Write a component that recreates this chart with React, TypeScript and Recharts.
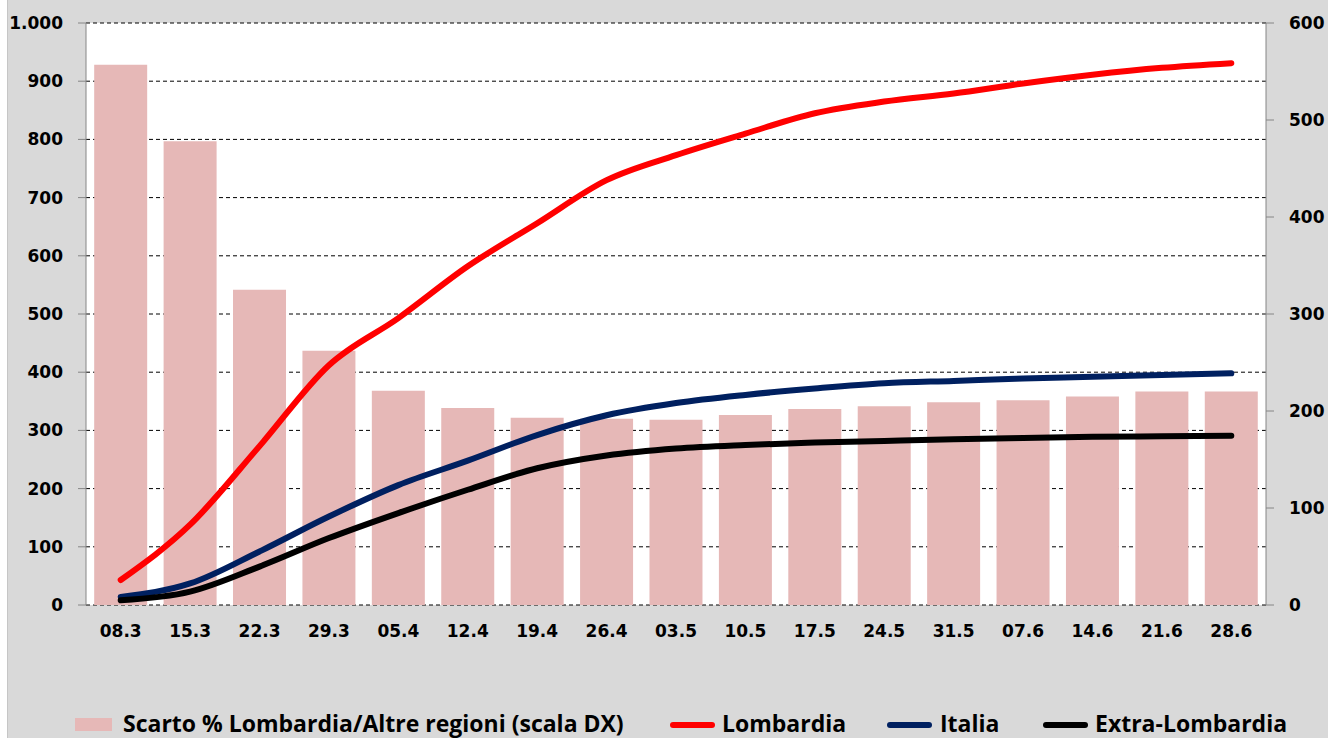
import React from 'react';
import { ComposedChart, Bar, Line, XAxis, YAxis, CartesianGrid, Legend } from 'recharts';

const categories = ['08.3', '15.3', '22.3', '29.3', '05.4', '12.4', '19.4', '26.4', '03.5', '10.5', '17.5', '24.5', '31.5', '07.6', '14.6', '21.6', '28.6'];
const scarto = [557, 478, 325, 262, 221, 203, 193, 192, 191, 196, 202, 205, 209, 211, 215, 220, 220];
const lombardia = [43, 138, 273, 412, 493, 582, 656, 730, 773, 810, 845, 865, 879, 896, 911, 923, 931];
const italia = [14, 37, 92, 152, 206, 248, 292, 326, 347, 361, 372, 381, 385, 389, 392, 395, 398];
const extraLombardia = [8, 23, 66, 115, 158, 198, 235, 257, 269, 275, 279, 282, 285, 287, 289, 290, 291];

const leftTicks = [0, 100, 200, 300, 400, 500, 600, 700, 800, 900, 1000];
const rightTicks = [0, 100, 200, 300, 400, 500, 600];
const edgeTicks = [0, 1, 2, 3, 4, 5, 6, 7, 8, 9, 10, 11, 12, 13, 14, 15, 16, 17];

const data = categories.map((c, i) => ({
  cat: c,
  scarto: scarto[i],
  lombardia: lombardia[i],
  italia: italia[i],
  extra: extraLombardia[i],
}));

const AXIS_FONT = { fontFamily: 'DejaVu Sans', fontWeight: 700, fontSize: 17, fill: '#000' };
const AXIS_COLOR = '#868686';

const fmt = (v: number) => v.toLocaleString('de-DE');

const legendText: React.CSSProperties = {
  position: 'absolute',
  top: 6,
  fontFamily: 'Open Sans',
  fontWeight: 700,
  fontSize: 23,
  lineHeight: '23px',
  color: '#000',
  whiteSpace: 'nowrap',
};

const lineIcon = (left: number, color: string): React.CSSProperties => ({
  position: 'absolute',
  left,
  top: 16,
  width: 45,
  height: 6,
  borderRadius: 3,
  background: color,
});

const renderLegend = () => (
  <div style={{ position: 'relative', width: 1320, height: 32 }}>
    <div style={{ position: 'absolute', left: 67, top: 12, width: 37, height: 13, background: '#e6b8b7' }} />
    <span style={{ ...legendText, left: 115 }}>Scarto % Lombardia/Altre regioni (scala DX)</span>
    <div style={lineIcon(662, '#ff0000')} />
    <span style={{ ...legendText, left: 714 }}>Lombardia</span>
    <div style={lineIcon(879, '#002060')} />
    <span style={{ ...legendText, left: 932 }}>Italia</span>
    <div style={lineIcon(1035, '#000000')} />
    <span style={{ ...legendText, left: 1087 }}>Extra-Lombardia</span>
  </div>
);

export default function App() {
  return (
    <div
      style={{
        position: 'fixed',
        left: 7,
        top: 0,
        width: 1321,
        height: 738,
        background: '#d9d9d9',
        borderLeft: '1px solid #c6c6c6',
        boxSizing: 'border-box',
        overflow: 'hidden',
      }}
    >
      <ComposedChart
        width={1320}
        height={738}
        data={data}
        margin={{ top: 23, right: 0, left: 0, bottom: 61 }}
        barCategoryGap="11.8%"
      >
        <CartesianGrid
          xAxisId="cat"
          yAxisId="left"
          vertical={false}
          stroke="#000"
          strokeDasharray="4 3"
          fill="#ffffff"
          fillOpacity={1}
        />
        <XAxis
          xAxisId="edges"
          type="number"
          domain={[0, 17]}
          allowDataOverflow
          ticks={edgeTicks}
          tick={false}
          height={0}
          tickSize={7}
          axisLine={{ stroke: AXIS_COLOR }}
          tickLine={{ stroke: AXIS_COLOR }}
        />
        <XAxis
          xAxisId="cat"
          dataKey="cat"
          height={40}
          axisLine={false}
          tickLine={false}
          tickSize={7}
          tickMargin={13}
          tick={AXIS_FONT}
          interval={0}
        />
        <YAxis
          yAxisId="left"
          domain={[0, 1000]}
          ticks={leftTicks}
          width={78}
          tickSize={8}
          tickMargin={15}
          tickFormatter={fmt}
          tick={AXIS_FONT}
          axisLine={{ stroke: AXIS_COLOR }}
          tickLine={{ stroke: AXIS_COLOR }}
          interval={0}
        />
        <YAxis
          yAxisId="right"
          orientation="right"
          domain={[0, 600]}
          ticks={rightTicks}
          width={62}
          tickSize={8}
          tickMargin={15}
          tick={{ ...AXIS_FONT, textAnchor: 'start' }}
          axisLine={{ stroke: AXIS_COLOR }}
          tickLine={{ stroke: AXIS_COLOR }}
          interval={0}
        />
        <Legend
          verticalAlign="bottom"
          content={renderLegend}
          wrapperStyle={{ top: 706, left: 0, bottom: 'auto', width: 1320, height: 32 }}
        />
        <Bar
          xAxisId="cat"
          yAxisId="right"
          dataKey="scarto"
          name="Scarto % Lombardia/Altre regioni (scala DX)"
          fill="#e6b8b7"
          isAnimationActive={false}
        />
        <Line
          xAxisId="cat"
          yAxisId="left"
          type="monotone"
          dataKey="lombardia"
          name="Lombardia"
          stroke="#ff0000"
          strokeWidth={6}
          strokeLinecap="round"
          dot={false}
          activeDot={false}
          isAnimationActive={false}
        />
        <Line
          xAxisId="cat"
          yAxisId="left"
          type="monotone"
          dataKey="italia"
          name="Italia"
          stroke="#002060"
          strokeWidth={6}
          strokeLinecap="round"
          dot={false}
          activeDot={false}
          isAnimationActive={false}
        />
        <Line
          xAxisId="cat"
          yAxisId="left"
          type="monotone"
          dataKey="extra"
          name="Extra-Lombardia"
          stroke="#000000"
          strokeWidth={6}
          strokeLinecap="round"
          dot={false}
          activeDot={false}
          isAnimationActive={false}
        />
      </ComposedChart>
    </div>
  );
}
